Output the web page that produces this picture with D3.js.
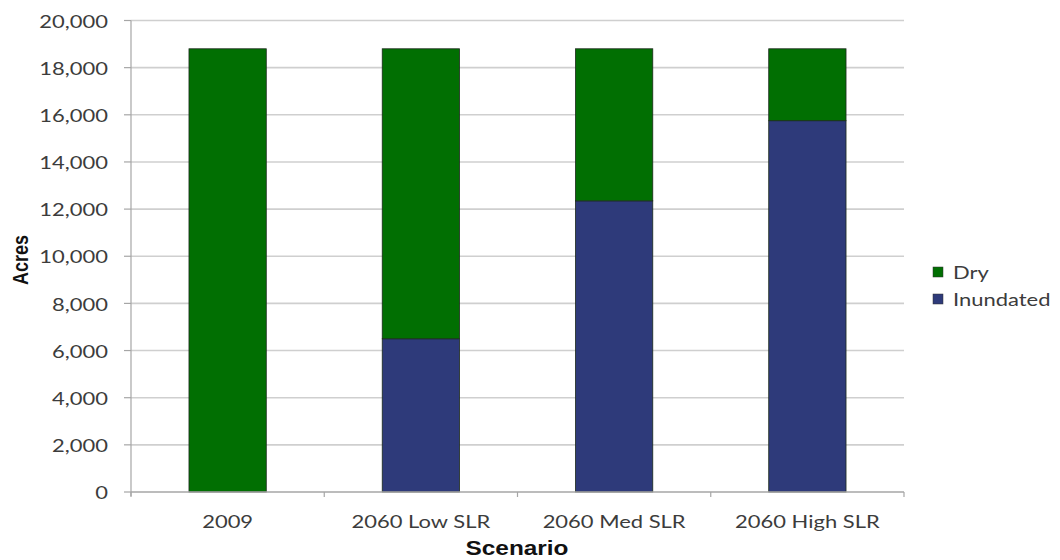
<!DOCTYPE html>
<html>
<head>
<meta charset="utf-8">
<script src="https://cdn.jsdelivr.net/npm/d3@7"></script>
<style>
  html, body { margin: 0; padding: 0; background: #fff; }
  svg { display: block; }
</style>
</head>
<body>
<svg id="chart" width="1060" height="560"></svg>
<script>
const categories = ["2009", "2060 Low SLR", "2060 Med SLR", "2060 High SLR"];
const inundated = [0, 6500, 12350, 15750];
const dry = [18800, 12300, 6450, 3050];
const seriesNames = ["Inundated", "Dry"];
const seriesColors = ["#2e3a7a", "#016f02"];
const yTicks = [0, 2000, 4000, 6000, 8000, 10000, 12000, 14000, 16000, 18000, 20000];
const xTitle = "Scenario";
const yTitle = "Acres";

(function () {
const SX = 1.22; // horizontal text stretch seen in the reference
const labelFont = "Lato, 'Open Sans', sans-serif";
const titleFont = "'Liberation Sans', Arial, sans-serif";

const svg = d3.select("#chart");
const pLeft = 131, pRight = 904, pTop = 20.5, pBottom = 492;

const x = d3.scaleBand().domain(categories).range([pLeft, pRight]).paddingInner(0.6).paddingOuter(0.3);
const y = d3.scaleLinear().domain([0, 20000]).range([pBottom, pTop]);

const rows = categories.map((c, i) => ({ cat: c, Inundated: inundated[i], Dry: dry[i] }));
const stack = d3.stack().keys(seriesNames)(rows);

// gridlines
svg.append("g").selectAll("line").data(yTicks.filter(d => d > 0)).join("line")
  .attr("x1", pLeft).attr("x2", pRight)
  .attr("y1", d => y(d)).attr("y2", d => y(d))
  .attr("stroke", "#cfcfcf").attr("stroke-width", 1.6);

// y tick marks
svg.append("g").selectAll("line").data(yTicks).join("line")
  .attr("x1", pLeft - 7).attr("x2", pLeft)
  .attr("y1", d => y(d)).attr("y2", d => y(d))
  .attr("stroke", "#a6a6a6").attr("stroke-width", 1.2);

// bars
const color = d3.scaleOrdinal().domain(seriesNames).range(seriesColors);
svg.append("g").selectAll("g").data(stack).join("g")
  .attr("fill", d => color(d.key))
  .selectAll("rect").data(d => d.filter(p => p[1] - p[0] > 0)).join("rect")
  .attr("x", d => x(d.data.cat))
  .attr("width", x.bandwidth())
  .attr("y", d => y(d[1]))
  .attr("height", d => y(d[0]) - y(d[1]))
  .attr("stroke", "#1c2a1c").attr("stroke-width", 0.8);

// axes lines
svg.append("line").attr("x1", pLeft).attr("x2", pLeft).attr("y1", pTop).attr("y2", pBottom + 4)
  .attr("stroke", "#a6a6a6").attr("stroke-width", 1.2);
svg.append("line").attr("x1", pLeft).attr("x2", pRight).attr("y1", pBottom).attr("y2", pBottom)
  .attr("stroke", "#a6a6a6").attr("stroke-width", 1.5);

// x tick marks at category boundaries
const bounds = [pLeft].concat(categories.map(c => x(c) + x.bandwidth() + (x.step() - x.bandwidth()) / 2));
svg.append("g").selectAll("line").data(bounds).join("line")
  .attr("x1", d => d).attr("x2", d => d)
  .attr("y1", pBottom).attr("y2", pBottom + 5)
  .attr("stroke", "#a6a6a6").attr("stroke-width", 1.2);

// y tick labels
svg.append("g").selectAll("text").data(yTicks).join("text")
  .attr("transform", d => `translate(108,${y(d)}) scale(${SX},1)`)
  .attr("text-anchor", "end").attr("dominant-baseline", "central")
  .attr("font-family", labelFont).attr("font-size", 18).attr("fill", "#3c3c3c")
  .text(d3.format(","));

// x tick labels
svg.append("g").selectAll("text").data(categories).join("text")
  .attr("transform", d => `translate(${x(d) + x.bandwidth() / 2},521) scale(${SX},1)`)
  .attr("text-anchor", "middle").attr("dominant-baseline", "central")
  .attr("font-family", labelFont).attr("font-size", 18).attr("fill", "#3c3c3c")
  .text(d => d);

// axis titles
svg.append("text")
  .attr("transform", `translate(517,548) scale(${SX},1)`)
  .attr("text-anchor", "middle").attr("dominant-baseline", "central")
  .attr("font-family", titleFont).attr("font-weight", "bold").attr("font-size", 20).attr("fill", "#111")
  .text(xTitle);
svg.append("text")
  .attr("transform", `translate(20,260) scale(${SX},1) rotate(-90)`)
  .attr("text-anchor", "middle").attr("dominant-baseline", "central")
  .attr("font-family", titleFont).attr("font-weight", "bold").attr("font-size", 18).attr("fill", "#111")
  .text(yTitle);

// legend (Dry on top)
const legendItems = ["Dry", "Inundated"];
const lg = svg.append("g").selectAll("g").data(legendItems).join("g")
  .attr("transform", (d, i) => `translate(933,${272 + i * 27})`);
lg.append("rect").attr("x", 0).attr("y", -5).attr("width", 10).attr("height", 10)
  .attr("fill", d => color(d)).attr("stroke", "#333").attr("stroke-width", 0.5);
lg.append("text")
  .attr("transform", `translate(20,0) scale(${SX},1)`)
  .attr("dominant-baseline", "central")
  .attr("font-family", labelFont).attr("font-size", 18).attr("fill", "#3c3c3c")
  .text(d => d);
})();
</script>
</body>
</html>
